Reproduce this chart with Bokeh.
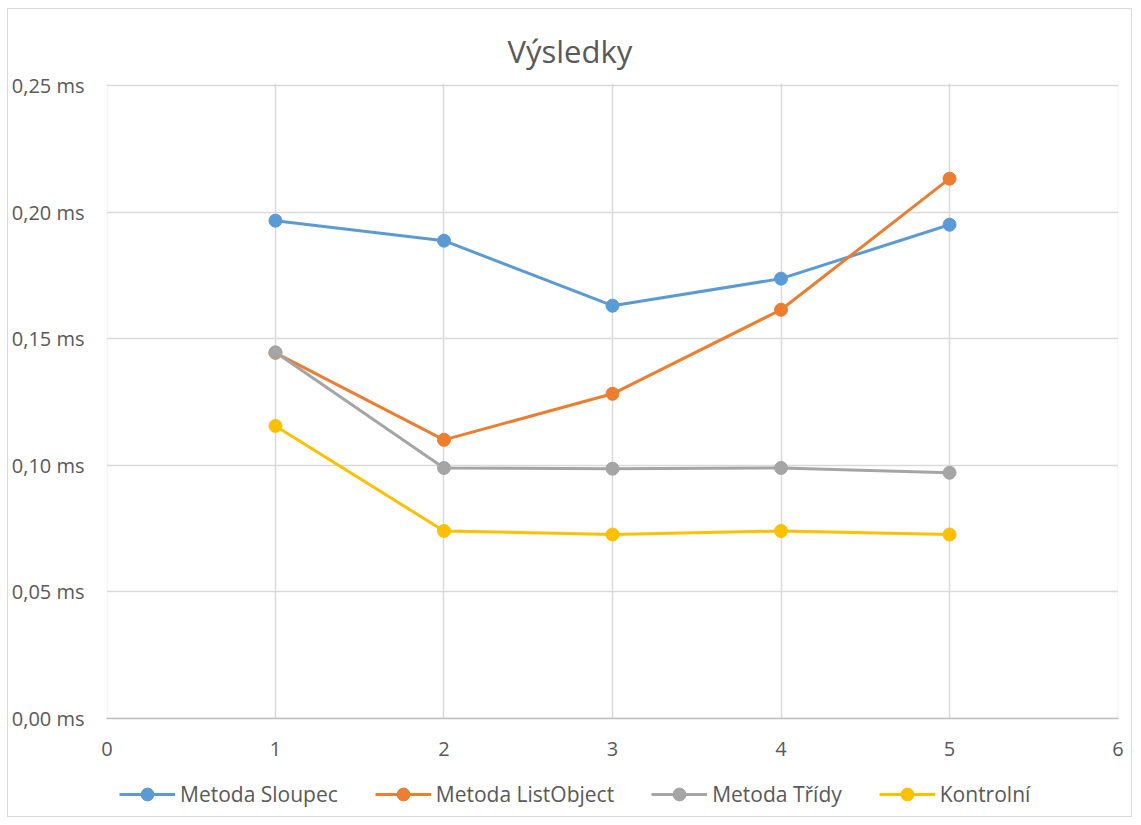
from bokeh.plotting import figure
from bokeh.models import (Range1d, FixedTicker, CustomJSTickFormatter, Legend,
                          LegendItem, Title, BoxAnnotation)
from bokeh.embed import file_html
from bokeh.resources import INLINE

title_text = "Výsledky"
x_vals = [1, 2, 3, 4, 5]
series_names = ["Metoda Sloupec", "Metoda ListObject", "Metoda Třídy", "Kontrolní"]
sloupec = [0.1966, 0.1887, 0.1630, 0.1737, 0.1950]
listobject = [0.1444, 0.1100, 0.1282, 0.1614, 0.2132]
tridy = [0.1446, 0.0989, 0.0986, 0.0989, 0.0970]
kontrolni = [0.1155, 0.0740, 0.0726, 0.0740, 0.0726]
y_ticks = [0.0, 0.05, 0.10, 0.15, 0.20, 0.25]
x_ticks = [0, 1, 2, 3, 4, 5, 6]

colors = ["#5B9BD5", "#ED7D31", "#A5A5A5", "#FFC000"]
FONT = "Open Sans"
TXT = "#595959"
GRID = "#d9d9d9"

X_MIN, X_MAX = x_ticks[0], x_ticks[-1]
Y_MIN, Y_MAX = y_ticks[0], y_ticks[-1]

# the frame reaches a little beyond the plot area (and below 0 for the legend);
# the surplus is masked in white so the visible plot area is 0..6 x 0..0.25
p = figure(width=1125, height=809, output_backend="svg", toolbar_location=None,
           x_range=Range1d(-0.05, 6.05), y_range=Range1d(-0.0396, 0.2508),
           min_border_left=85, min_border_right=7, min_border_top=74,
           min_border_bottom=0, title=None)
p.margin = (8, 0, 0, 7)
p.styles = {"border": "1.5px solid #d9d9d9"}
p.outline_line_color = None

p.add_layout(Title(text=title_text, align="left", offset=409, standoff=23,
                   text_font=FONT, text_font_size="31px", text_color=TXT,
                   text_font_style="normal"), "above")

p.yaxis.ticker = FixedTicker(ticks=y_ticks)
p.xaxis.ticker = FixedTicker(ticks=x_ticks)
p.xaxis.fixed_location = 0
p.xaxis.bounds = (X_MIN, X_MAX)
p.yaxis.formatter = CustomJSTickFormatter(
    code="return tick.toFixed(2).replace('.', ',') + ' ms';")
for ax in (p.xaxis, p.yaxis):
    ax.axis_line_color = None
    ax.major_tick_line_color = None
    ax.minor_tick_line_color = None
    ax.major_label_text_font = FONT
    ax.major_label_text_font_size = "20px"
    ax.major_label_text_color = TXT
p.yaxis.major_label_standoff = 8
p.xaxis.major_label_standoff = 18
p.xaxis.axis_line_color = "#bfbfbf"
p.xaxis.axis_line_width = 1.5

p.xgrid.grid_line_color = GRID
p.ygrid.grid_line_color = GRID
p.xgrid.grid_line_width = 1.5
p.ygrid.grid_line_width = 1.5

for kw in (dict(top=Y_MIN), dict(right=X_MIN), dict(left=X_MAX)):
    p.add_layout(BoxAnnotation(fill_color="white", fill_alpha=1, line_alpha=0,
                               level="underlay", **kw))

items = []
for name, ys, c in zip(series_names, [sloupec, listobject, tridy, kontrolni], colors):
    ln = p.line(x_vals, ys, line_color=c, line_width=3)
    sc = p.scatter(x_vals, ys, size=13, fill_color=c, line_color=c)
    items.append(LegendItem(label=name, renderers=[ln, sc]))

legend = Legend(items=items, orientation="horizontal", location=(21, 8),
                label_text_font=FONT, label_text_font_size="21px",
                label_text_color=TXT, glyph_width=56, glyph_height=32,
                spacing=37, label_standoff=5, border_line_alpha=0,
                background_fill_alpha=0, margin=0, padding=0)
p.add_layout(legend, "center")

open("out.html", "w").write(file_html(p, INLINE))
